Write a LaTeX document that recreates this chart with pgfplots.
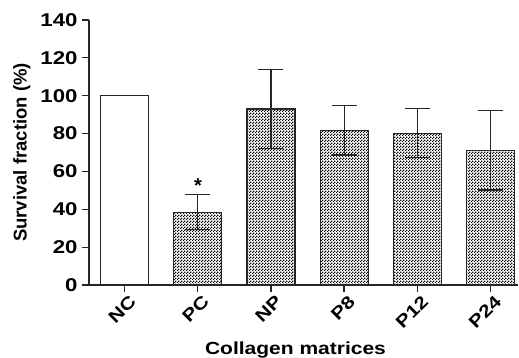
\documentclass[border=0pt]{standalone}
\usepackage{pgfplots}
\pgfplotsset{compat=1.18}
\usepackage{fontspec}
\setmainfont{Liberation Sans}
\newfontfamily\wfont{Liberation Sans}[FakeStretch=1.2]
\usetikzlibrary{patterns}
\pgfdeclarepatternformonly{finecheck}{\pgfpointorigin}{\pgfqpoint{3pt}{3pt}}{\pgfqpoint{3pt}{3pt}}{%
  \pgfpathrectangle{\pgfpointorigin}{\pgfqpoint{1.5pt}{1.5pt}}%
  \pgfpathrectangle{\pgfqpoint{1.5pt}{1.5pt}}{\pgfqpoint{1.5pt}{1.5pt}}%
  \pgfusepath{fill}}
\begin{document}
\begin{tikzpicture}
\begin{axis}[
  scale only axis,
  width=429pt, height=265pt,
  axis lines*=left,
  axis line style={line width=1.2pt, black!85},
  xmin=-0.49, xmax=5.38,
  ymin=0, ymax=140,
  ytick={0,20,...,140},
  xtick={0,1,2,3,4,5},
  xticklabels={NC,PC,NP,P8,P12,P24},
  tick align=outside,
  major tick length=7pt,
  tick style={line width=1.2pt, black!85},
  /pgf/number format/assume math mode=true,
  yticklabel style={font=\wfont\fontsize{18.5}{18.5}\selectfont\bfseries, xshift=-1pt},
  xticklabel style={font=\wfont\fontsize{17.5}{17.5}\selectfont\bfseries, rotate=45, anchor=north east, inner sep=1pt, yshift=-3pt, xshift=2pt},
  ylabel={Survival fraction (\%)},
  ylabel style={font=\fontsize{18.5}{18.5}\selectfont\bfseries, yshift=3pt},
  xlabel={Collagen matrices},
  xlabel style={font=\wfont\fontsize{17.5}{17.5}\selectfont\bfseries, xshift=-8pt, yshift=-7pt},
  ybar, bar width=48pt, bar shift=0pt,
]
\addplot[draw=black!85, line width=1.1pt, fill=white] coordinates {(0,100)};
\addplot[draw=black!85, line width=1.1pt, pattern=finecheck, pattern color=black,
  error bars/.cd, y dir=both, y explicit,
  error bar style={line width=1.1pt, black!85},
  error mark options={rotate=90, line width=1.1pt, black!85, mark size=12.5pt}]
  coordinates {
  (1,38.5) +- (0,9.2)
  (2,93) +- (0,21)
  (3,81.7) +- (0,13)
  (4,80.2) +- (0,13)
  (5,71.2) +- (0,21)
};
\node[font=\fontsize{20}{20}\selectfont\bfseries, anchor=south, inner sep=0pt] at (axis cs:1,49) {*};
\end{axis}
\pgfresetboundingbox
\path[use as bounding box] (current axis.south west) ++(-89pt,-73pt) rectangle ++(519pt,358pt);
\end{tikzpicture}
\end{document}
